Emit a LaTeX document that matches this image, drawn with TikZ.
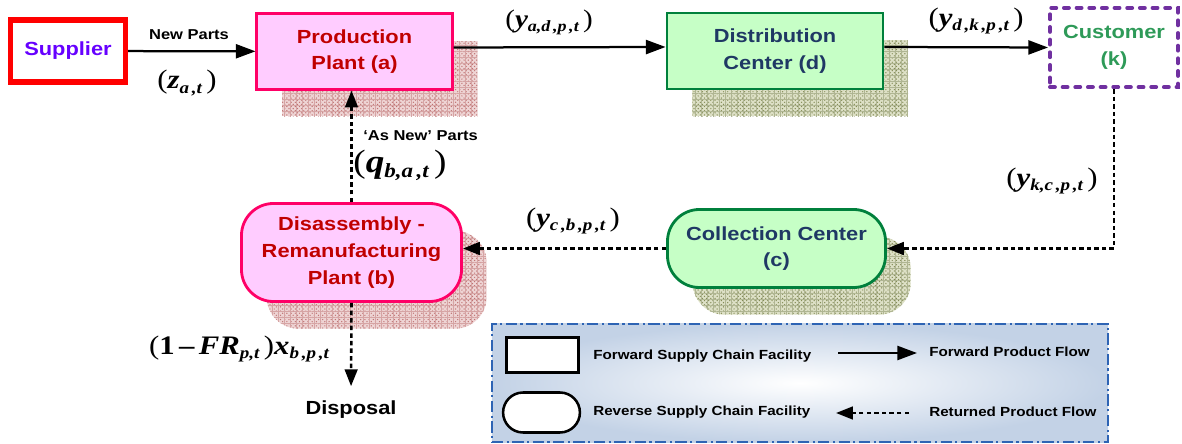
\documentclass[tikz,border=0pt]{standalone}
\usepackage{fontspec}
\setmainfont{Liberation Sans}[FakeStretch=1.15]
\newfontfamily\flowfont{Liberation Serif}[FakeStretch=1.15]
\usetikzlibrary{positioning, arrows.meta, calc, shadows, patterns, patterns.meta}

\definecolor{plantfill}{HTML}{FFCCFF}
\definecolor{plantline}{HTML}{FF0066}
\definecolor{planttext}{HTML}{C00000}
\definecolor{greenfill}{HTML}{C6FFC6}
\definecolor{greenline}{HTML}{00803C}
\definecolor{greentext}{HTML}{1F3864}
\definecolor{custline}{HTML}{7030A0}
\definecolor{custtext}{HTML}{2E9A58}
\definecolor{suptext}{HTML}{6600FF}
\definecolor{redbg}{HTML}{EED4D4}
\definecolor{redhatch}{HTML}{B45A5A}
\definecolor{olivebg}{HTML}{DDE0C6}
\definecolor{olivehatch}{HTML}{6E7838}
\definecolor{legendfill}{HTML}{C3D2E6}
\definecolor{legendline}{HTML}{2E64B4}

% flow variable with subscript
\newcommand{\fv}[2]{{\bfseries\itshape #1}\raisebox{-0.35ex}{\scalebox{0.62}{\bfseries\itshape #2}}}

\begin{document}
\begin{tikzpicture}[
    x=0.025cm, y=-0.025cm,
    every node/.style={align=center},
    boxlabel/.style={font=\bfseries\fontsize{13.5}{19}\selectfont},
    smalllbl/.style={font=\bfseries\fontsize{10.2}{12}\selectfont},
    legtext/.style={font=\bfseries\fontsize{9.4}{11}\selectfont, anchor=west, inner sep=0pt},
    flowlbl/.style={font=\flowfont\fontsize{19}{22}\selectfont, inner sep=0pt},
    fwdbox/.style={rectangle, draw, line width=2pt, inner sep=0pt, boxlabel},
    revbox/.style={rectangle, rounded corners=0.8cm, draw, line width=2pt, inner sep=0pt, boxlabel},
    plant/.style={fill=plantfill, draw=plantline, text=planttext},
    facility/.style={fill=greenfill, draw=greenline, text=greentext},
    custbox/.style={rectangle, draw=custline, line width=2.8pt, line cap=round, dash pattern=on 3.5pt off 5.5pt, text=custtext, inner sep=0pt, boxlabel},
    meshshadow/.style 2 args={
        general shadow={shadow xshift=0.63cm, shadow yshift=-0.68cm, fill=#1},
        general shadow={shadow xshift=0.63cm, shadow yshift=-0.68cm, pattern=crosshatch dots, pattern color=#2!85},
        general shadow={shadow xshift=0.63cm, shadow yshift=-0.68cm, pattern={Hatch[angle=0, distance=4.3pt, line width=0.4pt]}, pattern color=#2!55}},
    redshadow/.style={meshshadow={redbg}{redhatch}},
    oliveshadow/.style={meshshadow={olivebg}{olivehatch}},
    fwdarrow/.style={-{Triangle[length=14pt, width=10pt]}, line width=1.6pt},
    retarrow/.style={-{Triangle[length=12pt, width=9pt]}, line width=1.8pt, dash pattern=on 3.2pt off 2.2pt}
]
\useasboundingbox (0,0) rectangle (1182,444);

% facilities
\node[fwdbox, draw=red, line width=4pt, text=suptext, minimum width=2.87cm, minimum height=1.55cm] (sup) at (68,51) {Supplier};
\node[fwdbox, plant, redshadow, minimum width=4.88cm, minimum height=1.88cm] (prod) at (354.5,51.5) {Production\\Plant (a)};
\node[fwdbox, facility, oliveshadow, minimum width=5.4cm, minimum height=1.9cm] (dist) at (775,51) {Distribution\\Center (d)};
\node[custbox, minimum width=3.2cm, minimum height=1.98cm] (cust) at (1114,47.5) {Customer\\(k)};
\node[revbox, facility, oliveshadow, minimum width=5.45cm, minimum height=1.95cm] (coll) at (776.5,248.5) {Collection Center\\(c)};
\node[revbox, plant, redshadow, minimum width=5.5cm, minimum height=2.45cm] (dis) at (351.5,252.5) {Disassembly -\\Remanufacturing\\Plant (b)};
\node[boxlabel] (disp) at (351,410) {Disposal};

% forward flows
\draw[fwdarrow] (sup) -- (prod);
\draw[fwdarrow] ([yshift=0.1cm]prod.east) -- ([yshift=0.1cm]dist.west);
\draw[fwdarrow] ([yshift=0.1cm]dist.east) -- (cust.west);

% returned flows
\draw[retarrow] (cust.south) |- (coll.east);
\draw[retarrow] (coll.west) -- (coll.west -| dis.east);
\draw[retarrow] (dis.north) -- (dis.north |- prod.south);
\draw[retarrow, shorten >=0.25cm] (dis.south) -- (disp.north);

% flow labels
\node[smalllbl] (newparts) at (189,35) {New Parts};
\node[flowlbl] (zat) at (187,83) {(\fv{z}{a\,,t}\,)};
\node[flowlbl, font=\flowfont\fontsize{18}{22}\selectfont] (yadpt) at (549,22) {(\fv{y}{a,d\,,p\,,t}\,)};
\node[flowlbl] (ydkpt) at (976,21) {(\fv{y}{d\,,k\,,p\,,t}\,)};
\node[flowlbl] (ykcpt) at (1052,181) {(\fv{y}{k,c\,,p\,,t}\,)};
\node[flowlbl] (ycbpt) at (573,221) {(\fv{y}{c\,,b\,,p\,,t}\,)};
\node[smalllbl, anchor=west, inner sep=0pt] (asnew) at (363,136) {‘As New’ Parts};
\node[flowlbl, font=\flowfont\fontsize{23}{26}\selectfont] (qbat) at (400,165) {(\fv{q}{b,a\,,t}\,)};
\node[flowlbl] (dispose) at (239,349) {({\bfseries 1}\,{\bfseries –}\,\fv{FR}{p,t}\,)\fv{x}{b\,,p\,,t}};

% legend
\node[draw=legendline, line width=1.4pt, dash pattern=on 8pt off 2.5pt on 1.5pt off 2.5pt,
      shading=radial, inner color=white, outer color=legendfill,
      minimum width=15.4cm, minimum height=2.95cm, inner sep=0pt] (legend) at (800,383) {};
\node[rectangle, draw, fill=white, line width=1.8pt, minimum width=1.8cm, minimum height=0.88cm] (keyfwd) at (542.5,355) {};
\node[rectangle, draw, fill=white, line width=1.8pt, rounded corners=0.5cm, minimum width=1.92cm, minimum height=1.0cm] (keyrev) at (541.5,412.5) {};
\node[legtext] (keyfwdtext) at (593,356) {Forward Supply Chain Facility};
\node[legtext] (keyrevtext) at (593,412) {Reverse Supply Chain Facility};
\coordinate (fwdtail) at (838,353);
\coordinate (fwdhead) at (917,353);
\coordinate (rettail) at (909,413);
\coordinate (rethead) at (836,413);
\draw[fwdarrow] (fwdtail) -- (fwdhead);
\draw[retarrow] (rettail) -- (rethead);
\node[legtext] (fwdflowtext) at (929,352) {Forward Product Flow};
\node[legtext] (retflowtext) at (929,412) {Returned Product Flow};

\end{tikzpicture}
\end{document}
